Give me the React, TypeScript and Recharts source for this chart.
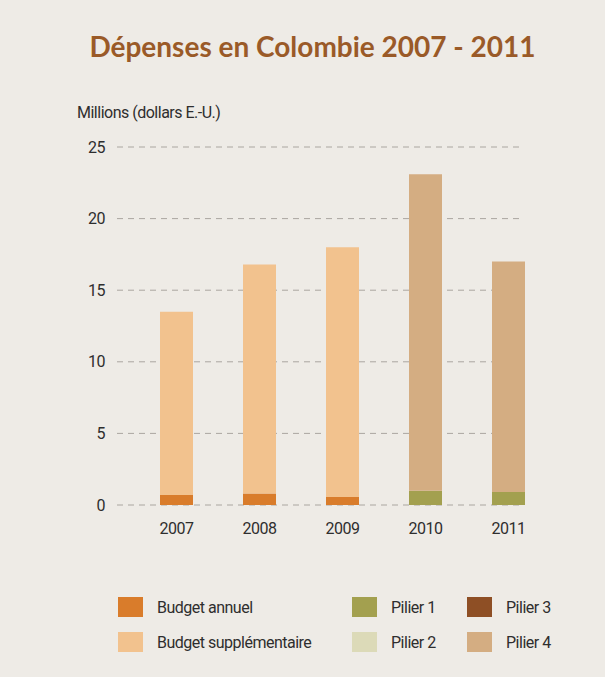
import { BarChart, Bar, XAxis, YAxis, CartesianGrid } from 'recharts'

const years = ['2007', '2008', '2009', '2010', '2011']
const budgetAnnuel = [0.7, 0.8, 0.55, 0, 0]
const budgetSupp = [12.8, 16.0, 17.45, 0, 0]
const pilier1 = [0, 0, 0, 1.0, 0.9]
const pilier2 = [0, 0, 0, 0, 0]
const pilier3 = [0, 0, 0, 0, 0]
const pilier4 = [0, 0, 0, 22.1, 16.1]
const yTicks = [0, 5, 10, 15, 20, 25]

const COLORS = {
  annuel: '#d97c2b',
  supp: '#f2c28e',
  p1: '#a3a04f',
  p2: '#dcdab8',
  p3: '#8e4f25',
  p4: '#d4ad82',
}

const data = years.map((y, i) => ({
  year: y,
  annuel: budgetAnnuel[i],
  supp: budgetSupp[i],
  p1: pilier1[i],
  p2: pilier2[i],
  p3: pilier3[i],
  p4: pilier4[i],
}))

const FONT = 'Roboto, sans-serif'
const textStyle = { fontSize: 16, letterSpacing: -0.5, color: '#2e2e2e' }

const legendItems = [
  { label: 'Budget annuel', color: COLORS.annuel, x: 118, y: 597 },
  { label: 'Budget supplémentaire', color: COLORS.supp, x: 118, y: 632 },
  { label: 'Pilier 1', color: COLORS.p1, x: 352, y: 597 },
  { label: 'Pilier 2', color: COLORS.p2, x: 352, y: 632 },
  { label: 'Pilier 3', color: COLORS.p3, x: 467, y: 597 },
  { label: 'Pilier 4', color: COLORS.p4, x: 467, y: 632 },
]

const tickProps = { fill: '#2e2e2e', fontSize: 16, fontFamily: FONT, letterSpacing: -0.5 }

export default function App() {
  return (
    <div
      style={{
        position: 'absolute',
        left: 0,
        top: 0,
        width: 605,
        height: 677,
        background: '#eeebe6',
        fontFamily: FONT,
        overflow: 'hidden',
      }}
    >
      <div
        style={{
          position: 'absolute',
          top: 29,
          left: 10,
          width: 605,
          textAlign: 'center',
          fontFamily: 'Lato, sans-serif',
          fontWeight: 700,
          fontSize: 28,
          color: '#9a5a28',
        }}
      >
        Dépenses en Colombie 2007 - 2011
      </div>
      <div style={{ position: 'absolute', top: 103, left: 77, ...textStyle }}>
        Millions (dollars E.-U.)
      </div>
      <div style={{ position: 'absolute', top: 0, left: 0 }}>
        <BarChart
          width={605}
          height={560}
          data={data}
          margin={{ top: 147, right: 83, left: 0, bottom: 15 }}
          barSize={33}
        >
          <CartesianGrid vertical={false} stroke="#aaa6a0" strokeDasharray="6 5" />
          <XAxis
            dataKey="year"
            axisLine={false}
            tickLine={false}
            tickMargin={12}
            height={40}
            padding={{ left: 18, right: -28 }}
            tick={tickProps}
          />
          <YAxis
            width={117}
            domain={[0, 25]}
            ticks={yTicks}
            axisLine={false}
            tickLine={false}
            tickMargin={6}
            tick={tickProps}
          />
          <Bar dataKey="annuel" stackId="a" fill={COLORS.annuel} isAnimationActive={false} />
          <Bar dataKey="p1" stackId="a" fill={COLORS.p1} isAnimationActive={false} />
          <Bar dataKey="p2" stackId="a" fill={COLORS.p2} isAnimationActive={false} />
          <Bar dataKey="p3" stackId="a" fill={COLORS.p3} isAnimationActive={false} />
          <Bar dataKey="supp" stackId="a" fill={COLORS.supp} isAnimationActive={false} />
          <Bar dataKey="p4" stackId="a" fill={COLORS.p4} isAnimationActive={false} />
        </BarChart>
      </div>
      {legendItems.map((it) => (
        <div
          key={it.label}
          style={{
            position: 'absolute',
            left: it.x,
            top: it.y,
            display: 'flex',
            alignItems: 'center',
            ...textStyle,
          }}
        >
          <div style={{ width: 25, height: 20, background: it.color, marginRight: 14 }} />
          <span>{it.label}</span>
        </div>
      ))}
    </div>
  )
}
